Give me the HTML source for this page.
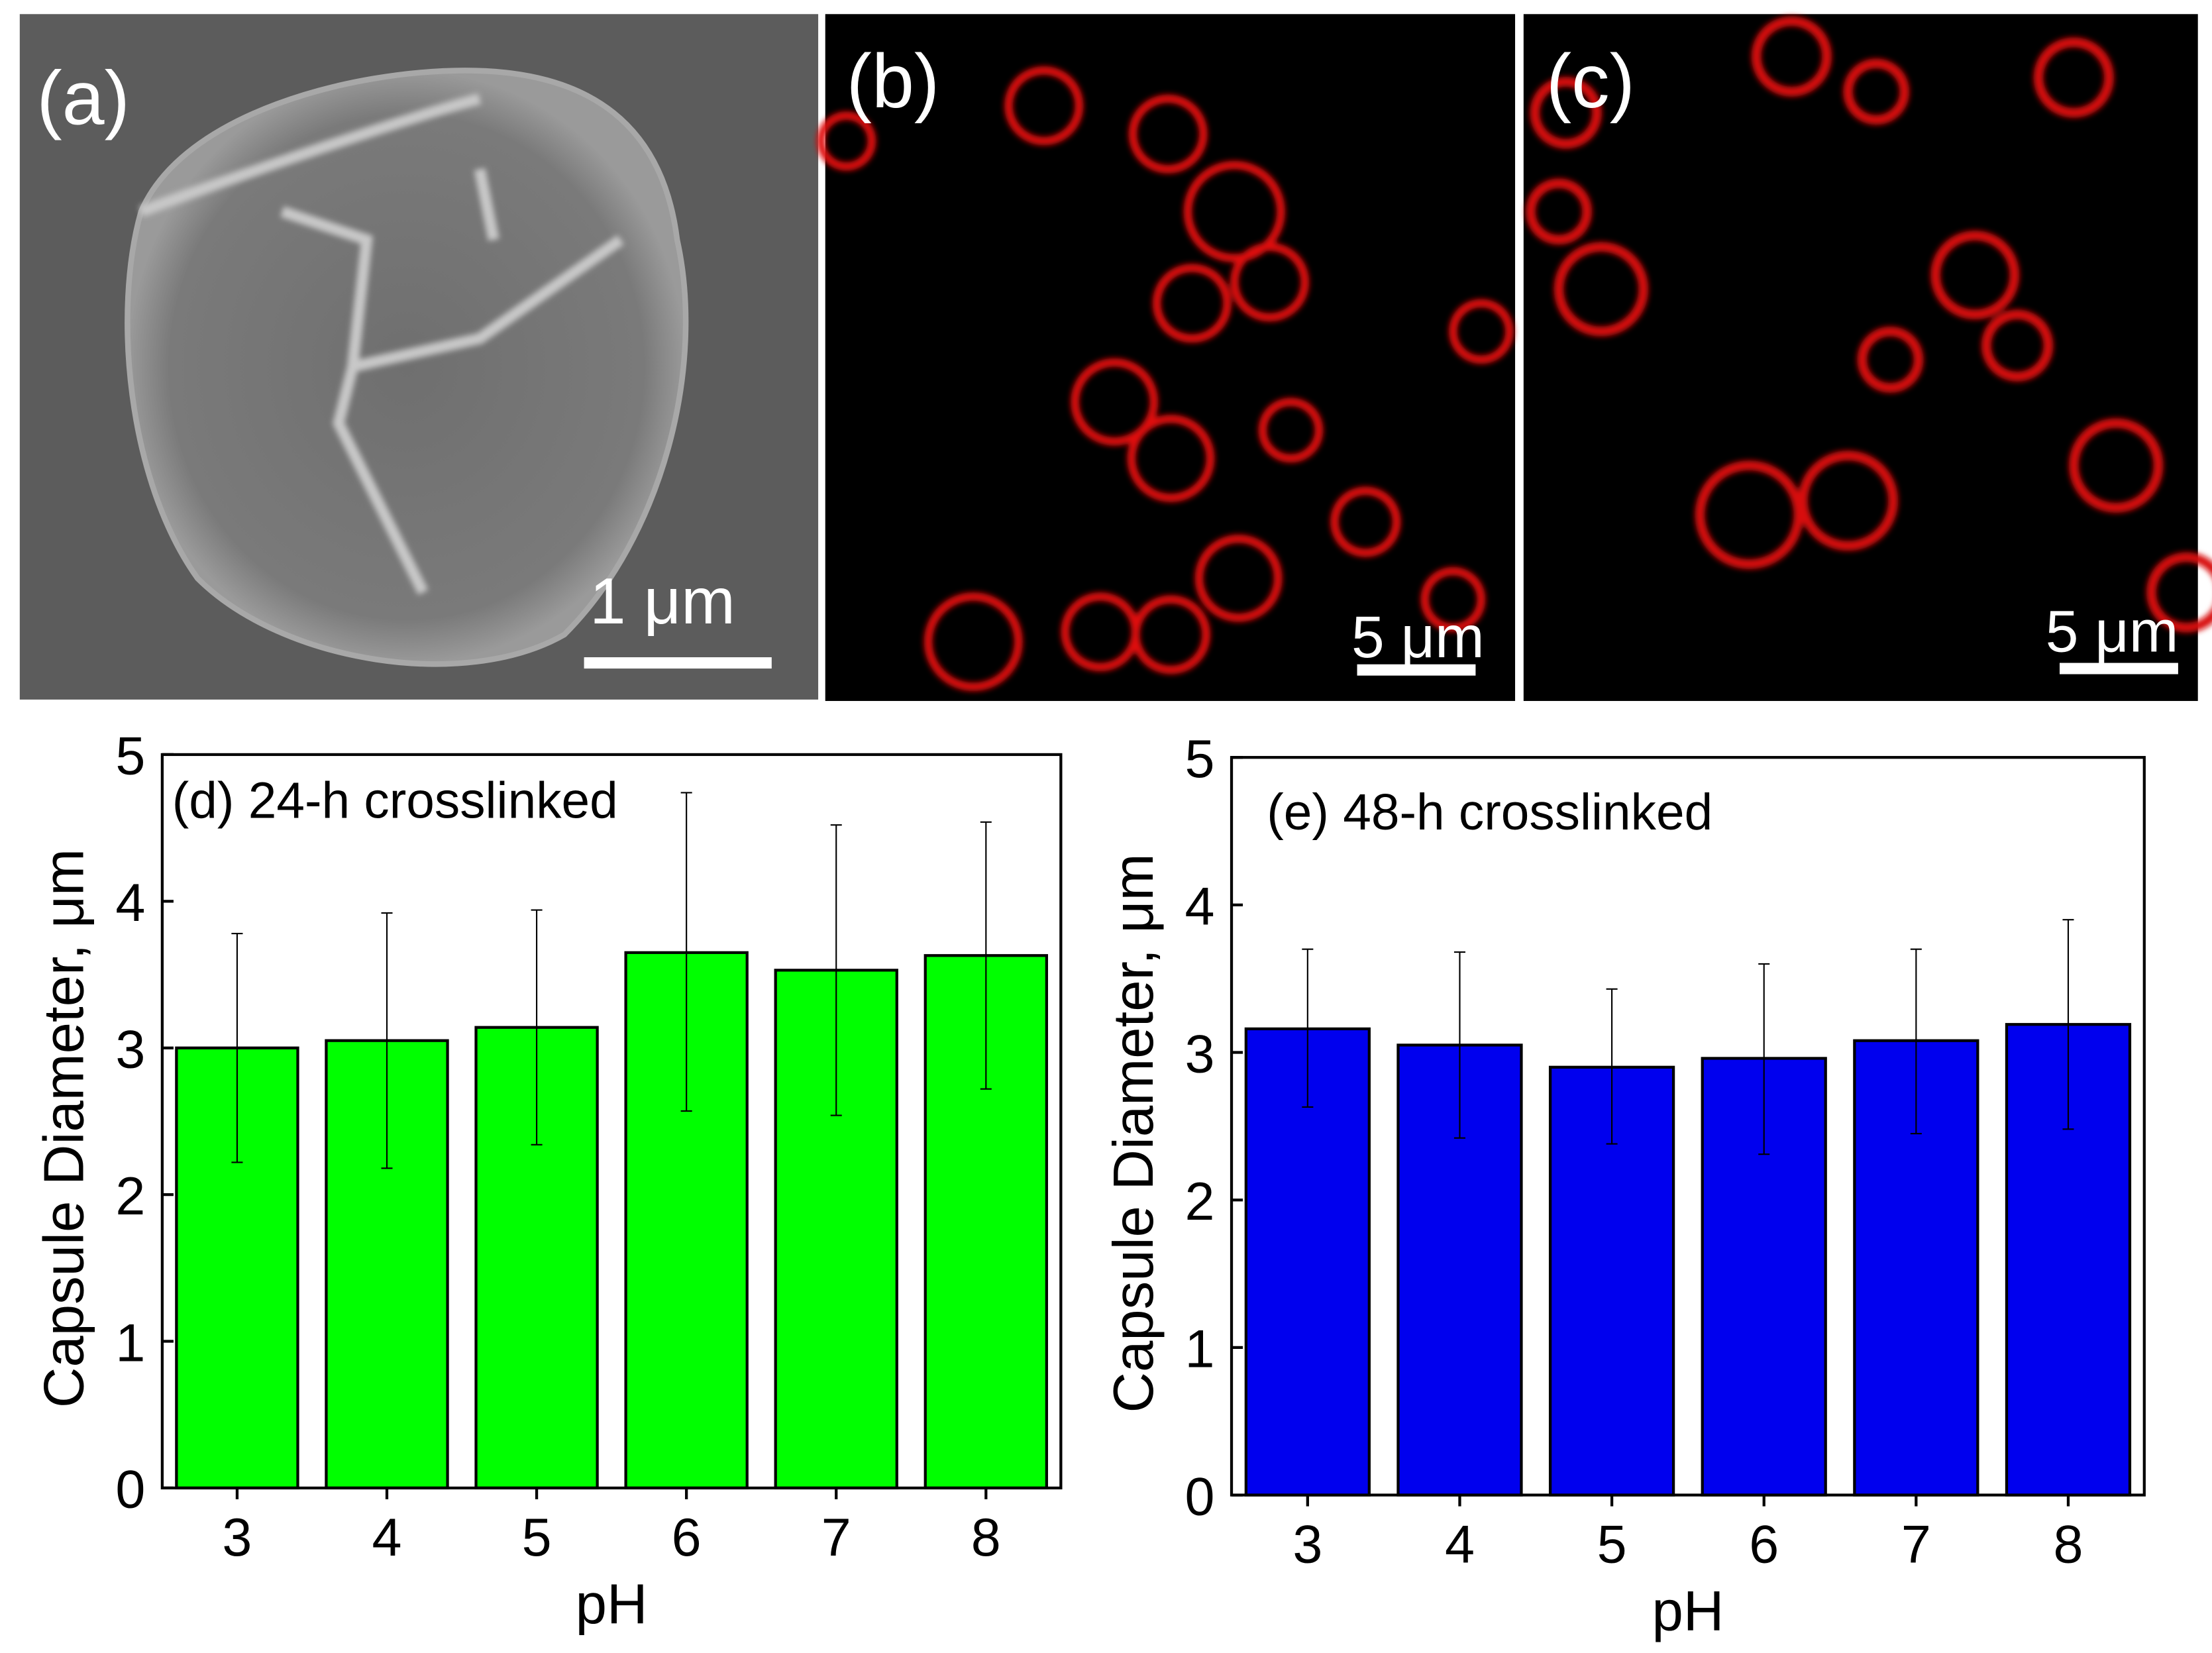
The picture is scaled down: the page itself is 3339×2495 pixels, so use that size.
<!DOCTYPE html>
<html><head><meta charset="utf-8"><style>
html,body{margin:0;padding:0;background:#fff;}
svg{display:block;font-family:"Liberation Sans",Arial,sans-serif;}
</style></head><body>
<svg id="fig" width="3339" height="2495" viewBox="0 0 1568 1172" preserveAspectRatio="none">
<defs>
<radialGradient id="semg" cx="0.5" cy="0.5" r="0.5">
<stop offset="0" stop-color="#6f6f6f"/><stop offset="0.85" stop-color="#7a7a7a"/><stop offset="1" stop-color="#9a9a9a"/>
</radialGradient>
<filter id="blur"><feGaussianBlur stdDeviation="2"/></filter>
</defs>
<g>
<rect x="14" y="10" width="566" height="486" fill="#5c5c5c"/>
<path d="M100,150 C130,80 250,50 330,50 C420,50 470,90 480,170 C500,260 470,380 400,450 C330,490 200,470 140,410 C90,340 80,220 100,150 Z" fill="url(#semg)" stroke="#a8a8a8" stroke-width="4"/>
<path d="M100,150 C180,120 300,80 340,70 M200,150 L260,170 L250,260 L340,240 L440,170 M250,260 L240,300 L300,420 M340,120 L350,170" fill="none" stroke="#c8c8c8" stroke-width="8" filter="url(#blur)"/>
<text x="26" y="88" font-size="54" fill="#fff">(a)</text>
<text x="418" y="442" font-size="46" fill="#fff">1 μm</text>
<rect x="414" y="466" width="133" height="8" fill="#fff"/>
</g>
<g>
<rect x="585" y="10" width="489" height="487" fill="#000"/>
<g id="circB" fill="none" stroke="#e01010" stroke-width="6" filter="url(#blur)"></g>
<text x="600" y="76" font-size="54" fill="#fff">(b)</text>
<text x="958" y="466" font-size="42" fill="#fff">5 μm</text>
<rect x="962" y="471" width="84" height="8" fill="#fff"/>
</g>
<g>
<rect x="1080" y="10" width="478" height="487" fill="#000"/>
<g id="circC" fill="none" stroke="#d81010" stroke-width="7" filter="url(#blur)"></g>
<text x="1096" y="76" font-size="54" fill="#fff">(c)</text>
<text x="1450" y="462" font-size="42" fill="#fff">5 μm</text>
<rect x="1460" y="470" width="84" height="8" fill="#fff"/>
</g>
<g id="chartD"></g>
<g id="chartE"></g>
</svg>
<script>
const categories = ["3","4","5","6","7","8"];
const yTicks = [0,1,2,3,4,5];
const meansD = [3.00,3.05,3.14,3.65,3.53,3.63];
const upperD = [3.78,3.92,3.94,4.74,4.52,4.54];
const lowerD = [2.22,2.18,2.34,2.57,2.54,2.72];
const meansE = [3.16,3.05,2.90,2.96,3.08,3.19];
const upperE = [3.70,3.68,3.43,3.60,3.70,3.90];
const lowerE = [2.63,2.42,2.38,2.31,2.45,2.48];

const NS="http://www.w3.org/2000/svg";
function mk(parent,tag,attrs){const e=document.createElementNS(NS,tag);for(const k in attrs)e.setAttribute(k,attrs[k]);parent.appendChild(e);return e;}

[[740,75,25],[828,95,25],[875,150,33],[900,200,25],[845,215,25],[790,285,28],[830,325,28],[915,305,20],[968,370,22],[878,410,28],[690,455,32],[780,448,25],[830,450,25],[1030,425,20],[1050,235,20],[600,100,18]].forEach(c=>{mk(document.getElementById('circB'),'circle',{cx:c[0],cy:c[1],r:c[2]});});
[[1270,40,25],[1330,65,20],[1470,55,25],[1110,80,22],[1400,195,28],[1340,255,20],[1135,205,30],[1240,365,35],[1310,355,32],[1430,245,22],[1500,330,30],[1550,420,25],[1105,150,20]].forEach(c=>{mk(document.getElementById('circC'),'circle',{cx:c[0],cy:c[1],r:c[2]});});

function drawChart(g,cfg,means,upper,lower,fill,title,tx,ty){
  const y=v=>cfg.y0-(cfg.y0-cfg.y5)*v/5;
  const step=(cfg.x1-cfg.x0)/categories.length;
  const x=i=>cfg.x0+step*(i+0.5);
  const bw=step*0.81;
  means.forEach((m,i)=>{
    const r=mk(g,'rect',{x:x(i)-bw/2,y:y(m),width:bw,height:y(0)-y(m),fill:fill,stroke:'#000','stroke-width':2});
    
    
    const eb=mk(g,'path',{d:`M${x(i)},${y(upper[i])}V${y(lower[i])}M${x(i)-4},${y(upper[i])}H${x(i)+4}M${x(i)-4},${y(lower[i])}H${x(i)+4}`,stroke:'#000','stroke-width':1,fill:'none'});
    
    
    mk(g,'line',{x1:x(i),x2:x(i),y1:y(0),y2:y(0)+8,stroke:'#000','stroke-width':2});
    const t=mk(g,'text',{x:x(i),y:y(0)+48,'font-size':38,'text-anchor':'middle'});
    t.textContent=categories[i];
    
    
  });
  yTicks.forEach(v=>{
    mk(g,'line',{x1:cfg.x0,x2:cfg.x0+8,y1:y(v),y2:y(v),stroke:'#000','stroke-width':2});
    const t=mk(g,'text',{x:cfg.x0-12,y:y(v)+14,'font-size':38,'text-anchor':'end'});
    t.textContent=v;
    
    
  });
  const fr=mk(g,'rect',{x:cfg.x0,y:cfg.y5,width:cfg.x1-cfg.x0,height:cfg.y0-cfg.y5,fill:'none',stroke:'#000','stroke-width':2});
  
  
  const tt=mk(g,'text',{x:tx,y:ty,'font-size':36});
  tt.textContent=title;
  
  
  const xl=mk(g,'text',{x:(cfg.x0+cfg.x1)/2,y:cfg.y0+96,'font-size':40,'text-anchor':'middle'});
  xl.textContent='pH';
  
  
  const cy=(cfg.y0+cfg.y5)/2+5;
  const yl=mk(g,'text',{x:0,y:0,'font-size':40,'text-anchor':'middle',transform:`translate(${cfg.x0-56},${cy}) rotate(-90)`});
  yl.textContent='Capsule Diameter, μm';
  
  
}
drawChart(document.getElementById('chartD'),{x0:115,x1:752,y0:1055,y5:535},meansD,upperD,lowerD,'#00ff00','(d) 24-h crosslinked',122,580);
drawChart(document.getElementById('chartE'),{x0:873,x1:1520,y0:1060,y5:537},meansE,upperE,lowerE,'#0000ee','(e) 48-h crosslinked',898,588);
</script>
</body></html>
